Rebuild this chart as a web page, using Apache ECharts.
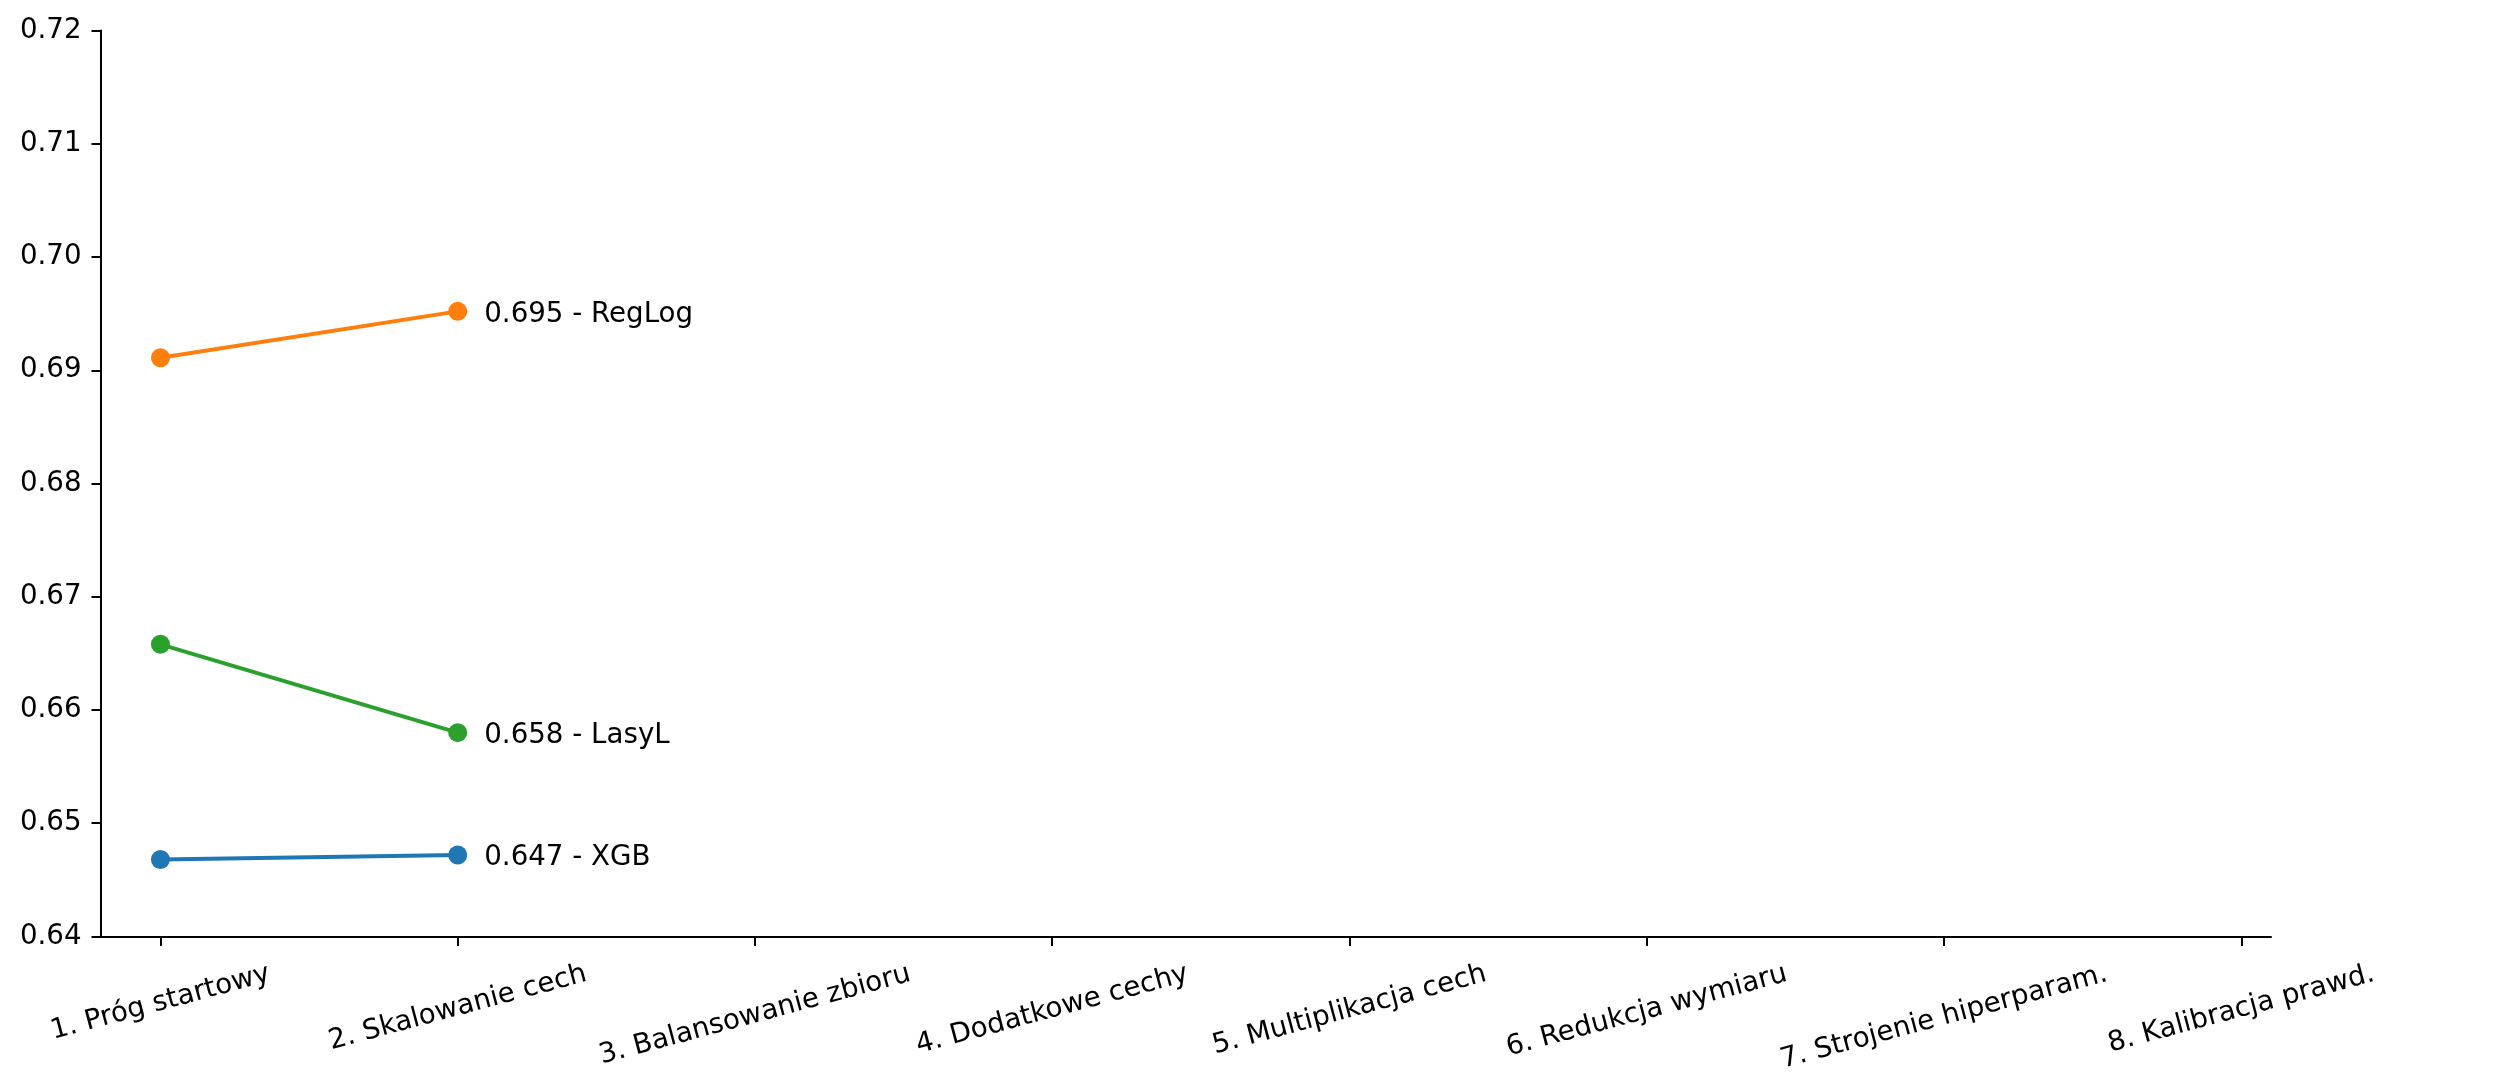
<!DOCTYPE html>
<html>
<head>
<meta charset="utf-8">
<script src="https://cdn.jsdelivr.net/npm/echarts@6/dist/echarts.min.js"></script>
<style>
html,body{margin:0;padding:0;background:#fff;}
#main{width:2498px;height:1091px;}
</style>
</head>
<body>
<div id="main"></div>
<script>
// ---- data ----
const categories = ['1. Próg startowy', '2. Skalowanie cech', '3. Balansowanie zbioru', '4. Dodatkowe cechy',
  '5. Multiplikacja cech', '6. Redukcja wymiaru', '7. Strojenie hiperparam.', '8. Kalibracja prawd.'];
const seriesNames = ['XGB', 'RegLog', 'LasyL'];
const xgbValues = [0.6468, 0.6472];
const reglogValues = [0.6911, 0.6952];
const lasylValues = [0.6658, 0.6580];
const yTicks = [0.64, 0.65, 0.66, 0.67, 0.68, 0.69, 0.70, 0.71, 0.72];

// ---- style ----
const colors = ['#1f77b4', '#ff7f0e', '#2ca02c'];
const FONT = 'DejaVu Sans';
const tickFont = 27.7;
const annFont = 27.7;
const rot = 15;

const chart = echarts.init(document.getElementById('main'), null, {renderer: 'canvas'});

// measure label widths for matplotlib-like centered rotated labels
const cv = document.createElement('canvas').getContext('2d');
cv.font = tickFont + 'px "' + FONT + '"';
const rad = rot * Math.PI / 180;
function labelMargin(text) {
  const w = cv.measureText(text).width;
  return 21.6 + (w * Math.sin(rad) + 32 * Math.cos(rad)) / 2;
}

const xMin = -0.2, xMax = 7.1;
const catIdx = categories.map((c, i) => i);

const xAxes = [{
  type: 'value', min: xMin, max: xMax, position: 'bottom',
  splitLine: {show: false},
  axisLine: {show: true, onZero: false, lineStyle: {color: '#000', width: 2}},
  axisTick: {show: true, customValues: catIdx, length: 9.5, lineStyle: {color: '#000', width: 2}},
  axisLabel: {show: false}
}];
categories.forEach((c, i) => {
  xAxes.push({
    type: 'value', min: xMin, max: xMax, position: 'bottom',
    splitLine: {show: false},
    axisLine: {show: false, onZero: false},
    axisTick: {show: false},
    axisLabel: {
      show: true, customValues: [i], rotate: rot, align: 'center', verticalAlign: 'middle',
      margin: labelMargin(c), fontFamily: FONT, fontSize: tickFont, color: '#000',
      formatter: () => c
    }
  });
});

function mkSeries(name, vals, color) {
  return {
    name: name, type: 'line', xAxisIndex: 0, yAxisIndex: 0,
    data: vals.map((v, i) => [catIdx[i], v]),
    symbol: 'circle', symbolSize: 19, showSymbol: true,
    lineStyle: {color: color, width: 4},
    itemStyle: {color: color},
    emphasis: {disabled: true},
    animation: false,
    endLabel: {
      show: true, distance: 26.5, offset: [0, 3], color: '#000', fontFamily: FONT, fontSize: annFont,
      formatter: p => p.value[1].toFixed(3) + ' - ' + p.seriesName
    }
  };
}

chart.setOption({
  animation: false,
  backgroundColor: '#fff',
  grid: {left: 101, right: 227, top: 30.5, bottom: 154.5, containLabel: false},
  xAxis: xAxes,
  yAxis: {
    type: 'value', min: yTicks[0], max: yTicks[yTicks.length - 1], interval: 0.01,
    splitLine: {show: false},
    axisLine: {show: true, onZero: false, lineStyle: {color: '#000', width: 2}},
    axisTick: {show: true, length: 9.5, lineStyle: {color: '#000', width: 2}},
    axisLabel: {margin: 19.4, fontFamily: FONT, fontSize: tickFont, color: '#000',
      formatter: v => v.toFixed(2)}
  },
  series: [
    mkSeries(seriesNames[0], xgbValues, colors[0]),
    mkSeries(seriesNames[1], reglogValues, colors[1]),
    mkSeries(seriesNames[2], lasylValues, colors[2])
  ]
});
</script>
</body>
</html>
